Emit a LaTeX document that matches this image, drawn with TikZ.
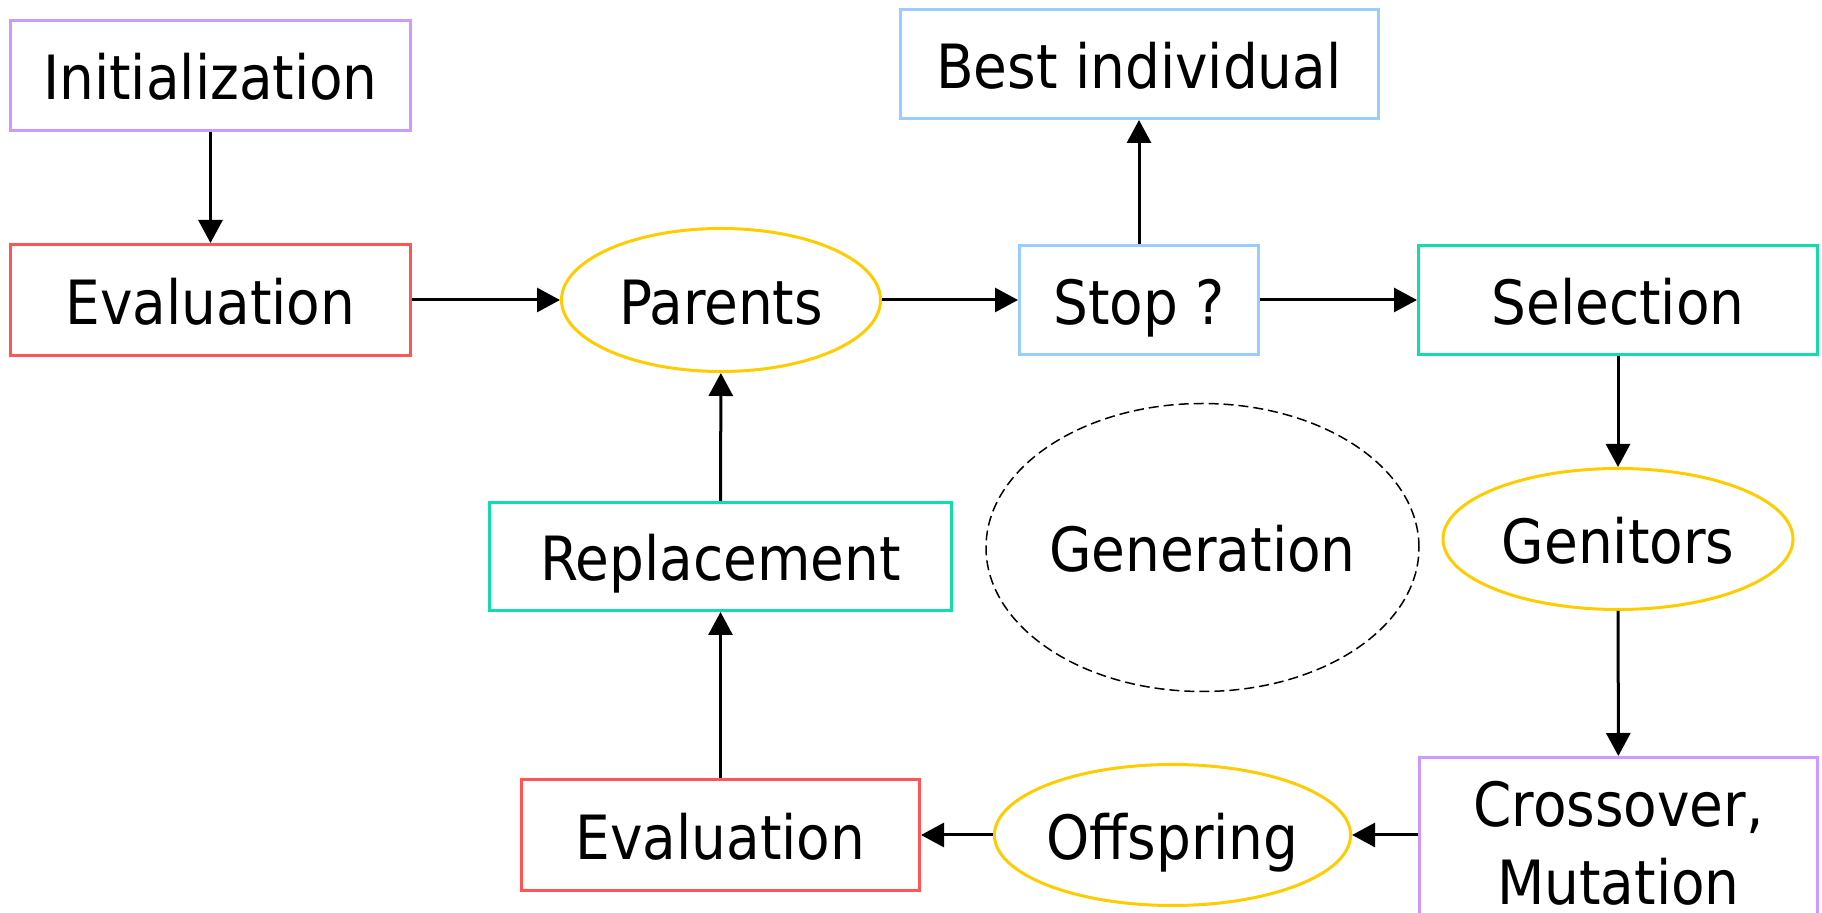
\documentclass[tikz,border=0pt]{standalone}
\usepackage{fontspec}
\setmainfont{DejaVu Sans Condensed}
\usetikzlibrary{shapes.geometric,arrows.meta}

\definecolor{initpurple}{HTML}{CC99FF}
\definecolor{evalred}{HTML}{FF5555}
\definecolor{popyellow}{HTML}{FFCC00}
\definecolor{stopblue}{HTML}{99CCFF}
\definecolor{opgreen}{HTML}{11DDAA}

\begin{document}
\begin{tikzpicture}[x=0.5pt,y=-0.5pt,
  base/.style={draw, line width=1.5pt, inner sep=0pt, text=black,
               font=\fontsize{30.5}{39}\selectfont},
  oneline/.style={text height=24.5pt, text depth=0pt},
  stagebox/.style={base, oneline, rectangle},
  popoval/.style={base, oneline, ellipse},
  flow/.style={-{Triangle[length=11.5pt,width=12pt]}, line width=1.5pt, draw=black}]
\useasboundingbox (0,0) rectangle (1822,913);

% stages of the loop
\node[stagebox, draw=initpurple, minimum width={400*0.5pt}, minimum height={110*0.5pt}]
  (init) at (210.5,75.5) {Initialization};
\node[stagebox, draw=evalred, minimum width={400*0.5pt}, minimum height={111*0.5pt}]
  (evalA) at (210.5,300) {Evaluation};
\node[popoval, draw=popyellow, minimum width={319*0.5pt}, minimum height={143*0.5pt}]
  (parents) at (721,300) {Parents};
\node[stagebox, draw=stopblue, minimum width={239*0.5pt}, minimum height={109*0.5pt}]
  (stop) at (1139,300) {Stop ?};
\node[stagebox, draw=stopblue, minimum width={478*0.5pt}, minimum height={109*0.5pt}]
  (best) at (1139,64) {Best individual};
\node[stagebox, draw=opgreen, minimum width={399*0.5pt}, minimum height={109*0.5pt}]
  (sel) at (1618,300) {Selection};
\node[popoval, draw=popyellow, minimum width={350*0.5pt}, minimum height={141*0.5pt}]
  (genitors) at (1618,539) {Genitors};
\node[base, rectangle, draw=initpurple, align=center, minimum width={398*0.5pt}, minimum height={172*0.5pt}]
  (cross) at (1618.5,843.5) {Crossover,\\Mutation};
\node[popoval, draw=popyellow, minimum width={336*0.5pt}, minimum height={141*0.5pt}]
  (offs) at (1172.5,835) {Offspring};
\node[stagebox, draw=evalred, minimum width={398*0.5pt}, minimum height={111*0.5pt}]
  (evalB) at (720.5,835) {Evaluation};
\node[stagebox, draw=opgreen, minimum width={462*0.5pt}, minimum height={108*0.5pt}]
  (repl) at (720.5,556.5) {Replacement};

% generation label
\node[base, oneline, ellipse, draw=black, line width=0.75pt, dash pattern=on 5pt off 2.5pt,
      minimum width={432*0.5pt}, minimum height={288*0.5pt}]
  (gen) at (1202.5,547.5) {Generation};

% connectors
\draw[flow] (init) -- (evalA);
\draw[flow] (evalA) -- (parents);
\draw[flow] (parents) -- (stop);
\draw[flow] (stop) -- (best);
\draw[flow] (stop) -- (sel);
\draw[flow] (sel) -- (genitors);
\draw[flow] (genitors) -- (cross);
\draw[flow] (offs.east -| cross.west) -- (offs.east);
\draw[flow] (offs) -- (evalB);
\draw[flow] (evalB) -- (repl);
\draw[flow] (repl) -- (parents);
\end{tikzpicture}
\end{document}
